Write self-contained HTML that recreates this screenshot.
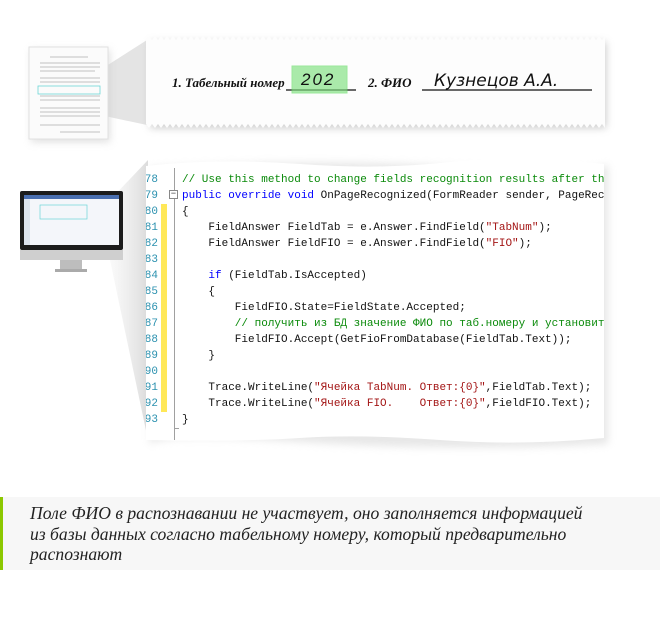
<!DOCTYPE html>
<html><head><meta charset="utf-8"><style>
html,body{margin:0;padding:0;background:#fff;width:660px;height:620px;overflow:hidden;position:relative}
.code{position:absolute;left:146px;top:160px;width:458px;height:280px;overflow:hidden;font-family:"Liberation Mono","DejaVu Sans Mono",monospace;font-size:11px;}
.ln{position:absolute;left:-4px;width:16px;text-align:right;color:#2b91af;font-size:11px}
.tx{position:absolute;left:36px;white-space:pre;color:#111}
.c{color:#0a8a0a}.k{color:#0000ff}.s{color:#a31515}
.cap{position:absolute;left:0;top:497px;width:660px;height:73px;background:#f7f7f7;border-left:3px solid #8cc800;box-sizing:border-box}
.cap p{margin:0;position:absolute;left:27px;top:6px;font-family:"Liberation Serif","DejaVu Serif",serif;font-style:italic;font-size:17.6px;line-height:20.5px;color:#222}
</style></head><body>
<svg width="660" height="620" style="position:absolute;left:0;top:0">
<defs>
<linearGradient id="w1" x1="0" x2="1"><stop offset="0" stop-color="#e6e6e6" stop-opacity="0.2"/><stop offset="1" stop-color="#dcdcdc"/></linearGradient>
<filter id="sh" x="-10%" y="-20%" width="120%" height="150%"><feGaussianBlur stdDeviation="4"/></filter>
<filter id="sh2"><feGaussianBlur stdDeviation="4"/></filter>
</defs>
<polygon points="100,70 147,40 147,125 100,115" fill="#e4e4e4"/>
<polygon points="110,200 148,160 148,440 110,260" fill="url(#w1)"/>
<rect x="31" y="50" width="79" height="92" fill="#ccc" filter="url(#sh)" opacity="0.6"/>
<rect x="29" y="47" width="79" height="92" fill="#fbfbfb" stroke="#e0e0e0"/>
<g stroke="#888" stroke-width="0.6">
<line x1="50" y1="57" x2="88" y2="57"/>
<line x1="40" y1="63" x2="100" y2="63"/><line x1="40" y1="67" x2="100" y2="67"/><line x1="40" y1="71" x2="95" y2="71"/>
<line x1="40" y1="78" x2="100" y2="78"/><line x1="40" y1="82" x2="100" y2="82"/>
<line x1="40" y1="96" x2="100" y2="96"/><line x1="40" y1="100" x2="100" y2="100"/>
<line x1="40" y1="108" x2="100" y2="108"/><line x1="40" y1="112" x2="100" y2="112"/><line x1="40" y1="116" x2="100" y2="116"/>
<line x1="40" y1="125" x2="100" y2="125"/><line x1="60" y1="132" x2="100" y2="132"/>
</g>
<rect x="38" y="86" width="62" height="8" fill="none" stroke="#6cd6d6" stroke-width="0.8"/>
<rect x="20" y="191" width="103" height="59" rx="2" fill="#1c1c1c"/>
<rect x="24" y="195" width="95" height="50" fill="#f4f6fa"/>
<rect x="24" y="195" width="95" height="4" fill="#4a6fb0"/>
<rect x="24" y="199" width="6" height="46" fill="#dde4ee"/>
<rect x="40" y="205" width="47" height="14" fill="none" stroke="#6cd6d6" stroke-width="0.7"/>
<rect x="20" y="250" width="103" height="10" fill="#cfcfcf"/>
<rect x="60" y="260" width="22" height="9" fill="#bdbdbd"/>
<rect x="55" y="269" width="32" height="3" fill="#aaa"/>
<rect x="150" y="42" width="456" height="86" fill="#999" filter="url(#sh)" opacity="0.5"/>
<path d="M146 40 L146 122 L605 122 L605 40 Z" fill="#fdfdfd"/>
<polyline points="146,124 149,128 152,124 155,128 158,124 161,128 164,124 167,128 170,124 173,128 176,124 179,128 182,124 185,128 188,124 191,128 194,124 197,128 200,124 203,128 206,124 209,128 212,124 215,128 218,124 221,128 224,124 227,128 230,124 233,128 236,124 239,128 242,124 245,128 248,124 251,128 254,124 257,128 260,124 263,128 266,124 269,128 272,124 275,128 278,124 281,128 284,124 287,128 290,124 293,128 296,124 299,128 302,124 305,128 308,124 311,128 314,124 317,128 320,124 323,128 326,124 329,128 332,124 335,128 338,124 341,128 344,124 347,128 350,124 353,128 356,124 359,128 362,124 365,128 368,124 371,128 374,124 377,128 380,124 383,128 386,124 389,128 392,124 395,128 398,124 401,128 404,124 407,128 410,124 413,128 416,124 419,128 422,124 425,128 428,124 431,128 434,124 437,128 440,124 443,128 446,124 449,128 452,124 455,128 458,124 461,128 464,124 467,128 470,124 473,128 476,124 479,128 482,124 485,128 488,124 491,128 494,124 497,128 500,124 503,128 506,124 509,128 512,124 515,128 518,124 521,128 524,124 527,128 530,124 533,128 536,124 539,128 542,124 545,128 548,124 551,128 554,124 557,128 560,124 563,128 566,124 569,128 572,124 575,128 578,124 581,128 584,124 587,128 590,124 593,128 596,124 599,128 602,124 605,128 605,120 146,120" fill="#fdfdfd"/>
<polyline points="146,40 149,36 152,40 155,36 158,40 161,36 164,40 167,36 170,40 173,36 176,40 179,36 182,40 185,36 188,40 191,36 194,40 197,36 200,40 203,36 206,40 209,36 212,40 215,36 218,40 221,36 224,40 227,36 230,40 233,36 236,40 239,36 242,40 245,36 248,40 251,36 254,40 257,36 260,40 263,36 266,40 269,36 272,40 275,36 278,40 281,36 284,40 287,36 290,40 293,36 296,40 299,36 302,40 305,36 308,40 311,36 314,40 317,36 320,40 323,36 326,40 329,36 332,40 335,36 338,40 341,36 344,40 347,36 350,40 353,36 356,40 359,36 362,40 365,36 368,40 371,36 374,40 377,36 380,40 383,36 386,40 389,36 392,40 395,36 398,40 401,36 404,40 407,36 410,40 413,36 416,40 419,36 422,40 425,36 428,40 431,36 434,40 437,36 440,40 443,36 446,40 449,36 452,40 455,36 458,40 461,36 464,40 467,36 470,40 473,36 476,40 479,36 482,40 485,36 488,40 491,36 494,40 497,36 500,40 503,36 506,40 509,36 512,40 515,36 518,40 521,36 524,40 527,36 530,40 533,36 536,40 539,36 542,40 545,36 548,40 551,36 554,40 557,36 560,40 563,36 566,40 569,36 572,40 575,36 578,40 581,36 584,40 587,36 590,40 593,36 596,40 599,36 602,40 605,36 605,42 146,42" fill="#fdfdfd"/>
<line x1="286" y1="90" x2="356" y2="90" stroke="#111" stroke-width="1.3"/>
<rect x="292" y="66" width="55" height="27" fill="#7fe07f" opacity="0.65" stroke="#66dd66"/>
<text x="172" y="87" font-family="Liberation Serif,serif" font-style="italic" font-weight="bold" font-size="13" fill="#111">1. Табельный номер</text>
<text x="301" y="85" font-family="Liberation Sans,sans-serif" font-style="italic" font-size="17" fill="#111" letter-spacing="2">202</text>
<text x="368" y="87" font-family="Liberation Serif,serif" font-style="italic" font-weight="bold" font-size="13" fill="#111">2. ФИО</text>
<line x1="422" y1="90" x2="592" y2="90" stroke="#111" stroke-width="1.3"/>
<text x="434" y="86" font-family="DejaVu Sans,sans-serif" font-style="italic" font-size="17" fill="#111">Кузнецов  А.А.</text>
<path d="M150 168 Q300 158 450 166 T608 164 L608 444 Q450 452 300 442 T150 446 Z" fill="#bbb" opacity="0.35" filter="url(#sh2)"/>
<path d="M146 166 Q220 158 300 164 T450 162 T604 164 L604 438 Q520 446 440 440 T300 438 T146 440 Z" fill="#fff"/>
</svg>
<div class="code">
<div style="position:absolute;left:15px;top:44px;width:6px;height:208px;background:#ffe858"></div>
<div style="position:absolute;left:28px;top:8px;width:1px;height:272px;background:#a0a0a0"></div>
<div style="position:absolute;left:23px;top:30px;width:9px;height:9px;border:1px solid #888;background:#fff;box-sizing:border-box;font:9px/7px 'Liberation Mono';text-align:center;color:#333">−</div>
<div style="position:absolute;left:28px;top:268px;width:5px;height:1px;background:#a0a0a0"></div>
<div class="ln" style="top:14px">78</div><div class="tx c" style="top:14px">// Use this method to change fields recognition results after th</div>
<div class="ln" style="top:30px">79</div><div class="tx" style="top:30px"><span class="k">public override void</span> OnPageRecognized(FormReader sender, PageRec</div>
<div class="ln" style="top:46px">80</div><div class="tx" style="top:46px">{</div>
<div class="ln" style="top:62px">81</div><div class="tx" style="top:62px">    FieldAnswer FieldTab = e.Answer.FindField(<span class="s">"TabNum"</span>);</div>
<div class="ln" style="top:78px">82</div><div class="tx" style="top:78px">    FieldAnswer FieldFIO = e.Answer.FindField(<span class="s">"FIO"</span>);</div>
<div class="ln" style="top:94px">83</div>
<div class="ln" style="top:110px">84</div><div class="tx" style="top:110px">    <span class="k">if</span> (FieldTab.IsAccepted)</div>
<div class="ln" style="top:126px">85</div><div class="tx" style="top:126px">    {</div>
<div class="ln" style="top:142px">86</div><div class="tx" style="top:142px">        FieldFIO.State=FieldState.Accepted;</div>
<div class="ln" style="top:158px">87</div><div class="tx c" style="top:158px">        // получить из БД значение ФИО по таб.номеру и установит</div>
<div class="ln" style="top:174px">88</div><div class="tx" style="top:174px">        FieldFIO.Accept(GetFioFromDatabase(FieldTab.Text));</div>
<div class="ln" style="top:190px">89</div><div class="tx" style="top:190px">    }</div>
<div class="ln" style="top:206px">90</div>
<div class="ln" style="top:222px">91</div><div class="tx" style="top:222px">    Trace.WriteLine(<span class="s">"Ячейка TabNum. Ответ:{0}"</span>,FieldTab.Text);</div>
<div class="ln" style="top:238px">92</div><div class="tx" style="top:238px">    Trace.WriteLine(<span class="s">"Ячейка FIO.    Ответ:{0}"</span>,FieldFIO.Text);</div>
<div class="ln" style="top:254px">93</div><div class="tx" style="top:254px">}</div>
</div>
<div class="cap"><p>Поле ФИО в распознавании не участвует, оно заполняется информацией<br>из базы данных согласно табельному номеру, который предварительно<br>распознают</p></div>
</body></html>
